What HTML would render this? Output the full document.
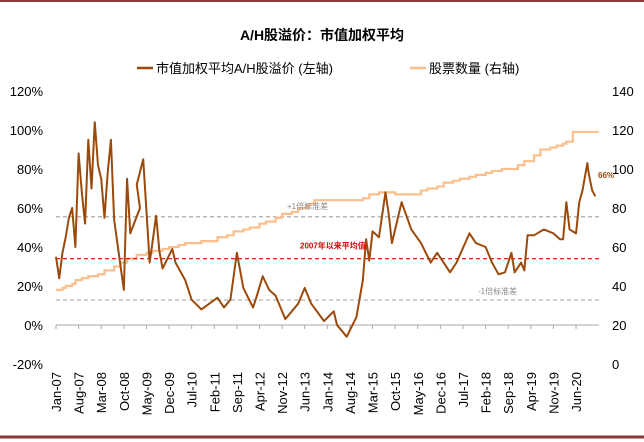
<!DOCTYPE html>
<html><head><meta charset="utf-8"><style>
body{margin:0;background:#fff;}
svg{display:block;font-family:"Liberation Sans","Noto Sans CJK SC",sans-serif;}
</style></head><body>
<svg id="c" width="644" height="442" viewBox="0 0 644 442">
<line x1="0" y1="1" x2="644" y2="1" stroke="#8b3a3a" stroke-width="2"/>
<line x1="0" y1="437" x2="644" y2="437" stroke="#8b3a3a" stroke-width="3"/>
<text x="322" y="40" text-anchor="middle" font-size="14" font-weight="bold">A/H股溢价：市值加权平均</text>
<g>
<line x1="137" y1="68" x2="153" y2="68" stroke="#9c4a0c" stroke-width="2.5"/>
<text x="156" y="73" font-size="13">市值加权平均A/H股溢价 (左轴)</text>
<line x1="410" y1="68" x2="426" y2="68" stroke="#fbbf8e" stroke-width="2.5"/>
<text x="429" y="73" font-size="13">股票数量 (右轴)</text>
</g>
<g id="axes"></g>
<g id="plot"></g>
</svg>
<script>
const leftTicks=[120,100,80,60,40,20,0,-20];
const rightTicks=[140,120,100,80,60,40,20,0];
const xLabels=["Jan-07","Aug-07","Mar-08","Oct-08","May-09","Dec-09","Jul-10","Feb-11","Sep-11","Apr-12","Nov-12","Jun-13","Jan-14","Aug-14","Mar-15","Oct-15","May-16","Dec-16","Jul-17","Feb-18","Sep-18","Apr-19","Nov-19","Jun-20"];
const premMonths=[0,1,2,3,4,5,6,7,8,9,10,11,12,13,14,15,16,17,18,20,21,22,23,26,25,27,29,31,32,33,36,37,40,42,45,50,52,54,56,58,61,62,64,66,68,71,75,77,79,83,86,87,90,93,95,96,97,98,100,102,103,104,107,110,113,116,118,122,124,128,130,133,135,137,139,141,142,144,145,146,148,151,154,156,157,158,159,161,162,163,164.5,165,166,167];
const premValues=[35,24,37,45,55,60,40,88,68,52,95,70,104,82,75,55,78,95,54,30,18,75,47,60,72,85,32,56,38,29,39,32,23,13,8,14,9,13,37,19,9,14,25,18,15,3,11,19,11,2,7,0,-6,4,23,44,33,48,45,68,57,42,63,49,42,32,37,27,32,47,42,40,32,26,27,37,27,32,28,46,46,49,47,44,44,63,49,47,63,69,83,77,69,66];
const cntMonths=[0,2,3,5,6,8,10,13,15,18,20,22,25,28,30,33,35,38,40,45,50,53,55,58,60,63,65,68,70,73,75,78,80,85,90,95,97,100,105,110,113,115,118,120,123,125,128,130,133,135,138,140,143,145,148,150,153,155,157,158,160,168];
const cntValues=[38,39,40,41,43,44,45,46,48,50,52,54,56,57,58,59,60,61,62,63,65,66,68,69,70,72,73,75,77,78,80,82,84,84,84,85,87,88,87,87,89,90,91,93,94,95,96,97,98,99,100,100,102,104,107,110,111,112,113,114,119,119];
const meanVal=34, plusSd=55.5, minusSd=12.8;

const X0=56, PX=3.23, X1=599;
const xs=m=>X0+m*PX;
const yL=v=>325-v*1.95;
const yR=v=>364-v*1.95;
const NS="http://www.w3.org/2000/svg";
const axes=document.getElementById('axes'), plot=document.getElementById('plot');
function mk(tag,attrs,parent){const e=document.createElementNS(NS,tag);for(const k in attrs)e.setAttribute(k,attrs[k]);parent.appendChild(e);return e;}

leftTicks.forEach(t=>{const e=mk('text',{x:43,y:yL(t)+5,'text-anchor':'end','font-size':13},axes);e.textContent=t+'%';

});
rightTicks.forEach(t=>{const e=mk('text',{x:612,y:yR(t)+5,'font-size':13},axes);e.textContent=t;

});
const xa=mk('line',{x1:X0,y1:yL(0),x2:X1,y2:yL(0),stroke:'#aaa','stroke-width':1},axes);


xLabels.forEach((l,i)=>{const x=xs(i*7);
const tk=mk('line',{x1:x,y1:yL(0),x2:x,y2:yL(0)+4,stroke:'#aaa'},axes);


const e=mk('text',{x:0,y:0,'font-size':13,'text-anchor':'end',transform:`translate(${x+5},372) rotate(-90)`},axes);e.textContent=l;

});

function hline(v,color,name){const e=mk('line',{x1:X0,x2:X1,y1:yL(v),y2:yL(v),stroke:color,'stroke-width':1.2,'stroke-dasharray':'4,3'},plot);

}
hline(plusSd,'#aaa','plus-1sd-line');
hline(minusSd,'#aaa','minus-1sd-line');

let d='';cntMonths.forEach((m,i)=>{if(i===0)d='M'+xs(m)+','+yR(cntValues[i]);else d+=' H'+xs(m)+' V'+yR(cntValues[i]);});
const cl=mk('path',{d:d,fill:'none',stroke:'#fbbf8e','stroke-width':2.2},plot);



hline(meanVal,'#e00000','mean-line');

const pts=premMonths.map((m,i)=>xs(m)+','+yL(premValues[i])).join(' ');
const pl=mk('polyline',{points:pts,fill:'none',stroke:'#9c4a0c','stroke-width':2,'stroke-linejoin':'round'},plot);



function label(txt,x,y,color,size,w,name){const e=mk('text',{x:x,y:y,fill:color,'font-size':size,'font-weight':w},plot);e.textContent=txt;

}
label('+1倍标准差',287,yL(plusSd)-8,'#888',8,'normal','plus-1sd-label');
label('2007年以来平均值',300,yL(meanVal)-10,'#e00000',8,'bold','mean-label');
label('-1倍标准差',478,yL(minusSd)-6,'#888',8,'normal','minus-1sd-label');
label('66%',598,178,'#9c4a0c',8,'bold','last-value-label');
</script>
</body></html>
